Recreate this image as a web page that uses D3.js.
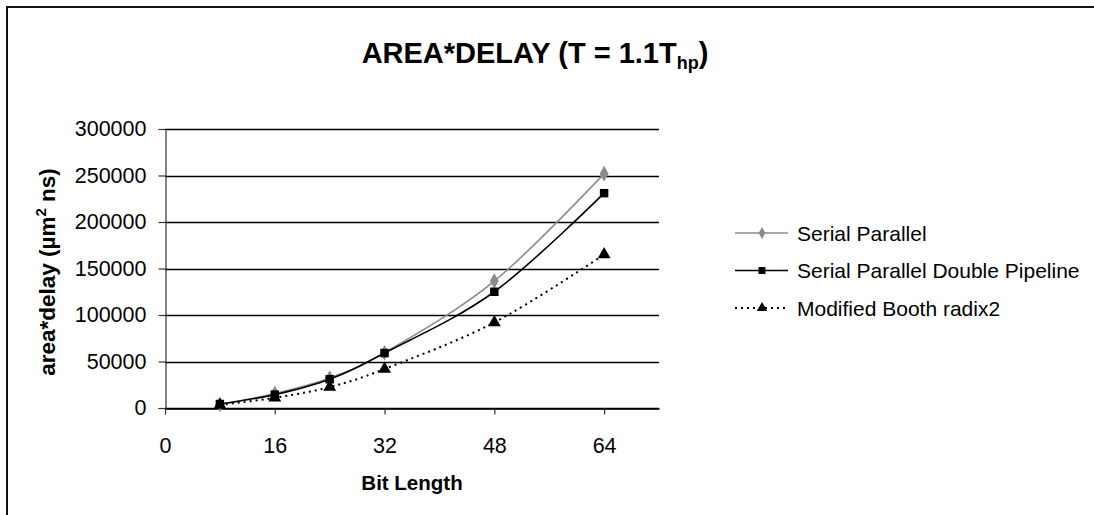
<!DOCTYPE html>
<html>
<head>
<meta charset="utf-8">
<script src="https://cdn.jsdelivr.net/npm/d3@7/dist/d3.min.js"></script>
<style>
  html, body { margin: 0; padding: 0; background: #fff; }
  svg { display: block; font-family: "Liberation Sans", Arial, sans-serif; }
</style>
</head>
<body>
<svg id="chart" width="1094" height="515"></svg>
<script>
// Bit lengths on the x axis
const bitLengths = [8, 16, 24, 32, 48, 64];
// area*delay (µm² ns) per design
const serialParallel = [3700, 15500, 32300, 59500, 136500, 252000];
const serialParallelDP = [4300, 14400, 30900, 59100, 125000, 231000];
const boothRadix2 = [3200, 11000, 22500, 42000, 92000, 165000];
const seriesNames = ["Serial Parallel", "Serial Parallel Double Pipeline", "Modified Booth radix2"];
const xTicks = [0, 16, 32, 48, 64];
const yTicks = [0, 50000, 100000, 150000, 200000, 250000, 300000];

const svg = d3.select("#chart");

// outer frame
svg.append("rect")
  .attr("x", 7).attr("y", 7)
  .attr("width", 1400).attr("height", 700)
  .attr("fill", "none").attr("stroke", "#111").attr("stroke-width", 2);

const x = d3.scaleLinear().domain([0, 72]).range([165, 659]);
const y = d3.scaleLinear().domain([0, 300000]).range([408, 129]);

// horizontal gridlines
svg.append("g").selectAll("line")
  .data(yTicks)
  .join("line")
  .attr("x1", x(0)).attr("x2", x(72))
  .attr("y1", d => Math.round(y(d)) + 0.5).attr("y2", d => Math.round(y(d)) + 0.5)
  .attr("stroke", "#000").attr("stroke-width", 1.4);

// y axis
const yAxis = svg.append("g")
  .attr("transform", `translate(${x(0) + 0.5},0)`)
  .call(d3.axisLeft(y).tickValues(yTicks).tickSize(7).tickPadding(12).tickFormat(d3.format("d")));
yAxis.select(".domain").attr("stroke", "#333").attr("stroke-width", 1.2);
yAxis.selectAll(".tick line").attr("stroke", "#333").attr("stroke-width", 1.2);
yAxis.selectAll("text").attr("font-size", 21.5).attr("fill", "#000")
  .attr("font-family", "Liberation Sans, Arial, sans-serif");

// x axis
const xAxis = svg.append("g")
  .attr("transform", `translate(0,${Math.round(y(0)) + 0.5})`)
  .call(d3.axisBottom(x).tickValues(xTicks).tickSize(6).tickPadding(23).tickSizeOuter(0));
xAxis.select(".domain").attr("stroke", "#000").attr("stroke-width", 1.4);
xAxis.selectAll(".tick line").attr("stroke", "#333").attr("stroke-width", 1.2);
xAxis.selectAll("text").attr("font-size", 21.5).attr("fill", "#000")
  .attr("font-family", "Liberation Sans, Arial, sans-serif");

// title
const title = svg.append("text")
  .attr("x", 535).attr("y", 63)
  .attr("text-anchor", "middle")
  .attr("font-size", 29).attr("font-weight", "bold");
title.append("tspan").text("AREA*DELAY (T = 1.1T");
title.append("tspan").attr("font-size", 18).attr("dy", 6).text("hp");
title.append("tspan").attr("dy", -6).text(")");

// axis titles
svg.append("text")
  .attr("x", 412).attr("y", 490)
  .attr("text-anchor", "middle")
  .attr("font-size", 20.5).attr("font-weight", "bold")
  .text("Bit Length");

const yTitle = svg.append("text")
  .attr("transform", "translate(55,272) rotate(-90)")
  .attr("text-anchor", "middle")
  .attr("font-size", 22.5).attr("font-weight", "bold");
yTitle.append("tspan").text("area*delay (µm");
yTitle.append("tspan").attr("font-size", 15).attr("dy", -9).text("2");
yTitle.append("tspan").attr("dy", 9).text(" ns)");

// series
const series = [
  { name: seriesNames[0], values: serialParallel, color: "#8c8c8c", dash: null, width: 1.6, marker: "diamond" },
  { name: seriesNames[1], values: serialParallelDP, color: "#000", dash: null, width: 1.6, marker: "square" },
  { name: seriesNames[2], values: boothRadix2, color: "#000", dash: "2,4", width: 2, marker: "triangle" }
];

const line = d3.line()
  .x((d, i) => x(bitLengths[i]))
  .y(d => y(d))
  .curve(d3.curveCardinal.tension(0));

const symbolFor = {
  diamond: d3.symbol().type(d3.symbolDiamond).size(70),
  square: d3.symbol().type(d3.symbolSquare).size(72),
  triangle: d3.symbol().type(d3.symbolTriangle).size(72)
};
const legendSymbolFor = {
  diamond: d3.symbol().type(d3.symbolDiamond).size(40),
  square: d3.symbol().type(d3.symbolSquare).size(48),
  triangle: d3.symbol().type(d3.symbolTriangle).size(48)
};

series.forEach(s => {
  svg.append("path")
    .attr("d", line(s.values))
    .attr("fill", "none")
    .attr("stroke", s.color)
    .attr("stroke-width", s.width)
    .attr("stroke-dasharray", s.dash);
  svg.append("g").selectAll("path")
    .data(s.values)
    .join("path")
    .attr("transform", (d, i) => `translate(${x(bitLengths[i])},${y(d)})`)
    .attr("d", symbolFor[s.marker]())
    .attr("fill", s.color);
});

// legend
const legend = svg.append("g");
series.forEach((s, i) => {
  const cy = 233 + i * 37.5;
  legend.append("line")
    .attr("x1", 735).attr("x2", 788)
    .attr("y1", cy).attr("y2", cy)
    .attr("stroke", s.color).attr("stroke-width", s.width)
    .attr("stroke-dasharray", s.dash);
  legend.append("path")
    .attr("transform", `translate(762,${cy})`)
    .attr("d", legendSymbolFor[s.marker]())
    .attr("fill", s.color);
  legend.append("text")
    .attr("x", 797).attr("y", cy + 7.5)
    .attr("font-size", 21)
    .text(s.name);
});
</script>
</body>
</html>
